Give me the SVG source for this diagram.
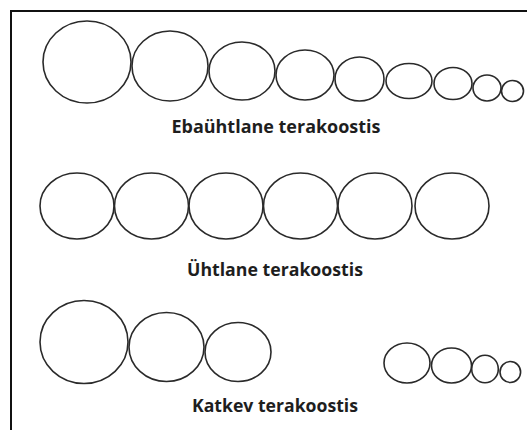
<svg xmlns="http://www.w3.org/2000/svg" width="527" height="430" viewBox="0 0 527 430">
<style>
.g{fill:none;stroke:#2a2a2a;stroke-width:1.6}
.lbl{font-family:"Open Sans","DejaVu Sans",sans-serif;font-weight:700;font-size:18px;fill:#1e1e1e;text-anchor:middle}
.frame{fill:none;stroke:#111;stroke-width:2}
</style>
<rect width="527" height="430" fill="#fff"/>
<path class="frame" d="M11,431 V11 H528"/>
<g id="row-ebauhtlane">
<ellipse class="g" cx="87" cy="62" rx="44" ry="41"/>
<ellipse class="g" cx="170" cy="66" rx="38" ry="35"/>
<ellipse class="g" cx="242" cy="71" rx="33" ry="29"/>
<ellipse class="g" cx="305" cy="75" rx="29" ry="25"/>
<ellipse class="g" cx="359.5" cy="79" rx="24.5" ry="22"/>
<ellipse class="g" cx="409" cy="81" rx="23" ry="17.5"/>
<ellipse class="g" cx="453" cy="83.5" rx="19" ry="16"/>
<ellipse class="g" cx="487" cy="88" rx="14" ry="13"/>
<ellipse class="g" cx="512.5" cy="91" rx="11" ry="10.5"/>
<text class="lbl" x="276" y="133" textLength="209" lengthAdjust="spacingAndGlyphs">Ebaühtlane terakoostis</text>
</g>
<g id="row-uhtlane">
<ellipse class="g" cx="77" cy="206" rx="37" ry="33"/>
<ellipse class="g" cx="151.5" cy="206" rx="37" ry="33"/>
<ellipse class="g" cx="226" cy="206" rx="37" ry="33"/>
<ellipse class="g" cx="300.5" cy="206" rx="37" ry="33"/>
<ellipse class="g" cx="375" cy="206" rx="37" ry="33"/>
<ellipse class="g" cx="452" cy="206" rx="37" ry="33"/>
<text class="lbl" x="275" y="276" textLength="176" lengthAdjust="spacingAndGlyphs">Ühtlane terakoostis</text>
</g>
<g id="row-katkev">
<ellipse class="g" cx="84" cy="342" rx="44" ry="41.5"/>
<ellipse class="g" cx="166.5" cy="347" rx="37.5" ry="34.5"/>
<ellipse class="g" cx="238" cy="352" rx="33" ry="29.5"/>
<ellipse class="g" cx="407" cy="363" rx="23" ry="20"/>
<ellipse class="g" cx="451.5" cy="365.5" rx="20" ry="17.5"/>
<ellipse class="g" cx="485" cy="369" rx="13.3" ry="13.8"/>
<ellipse class="g" cx="510.3" cy="372" rx="10.3" ry="10.5"/>
<text class="lbl" x="275" y="412" textLength="166" lengthAdjust="spacingAndGlyphs">Katkev terakoostis</text>
</g>
<g id="connectors"/>
</svg>
